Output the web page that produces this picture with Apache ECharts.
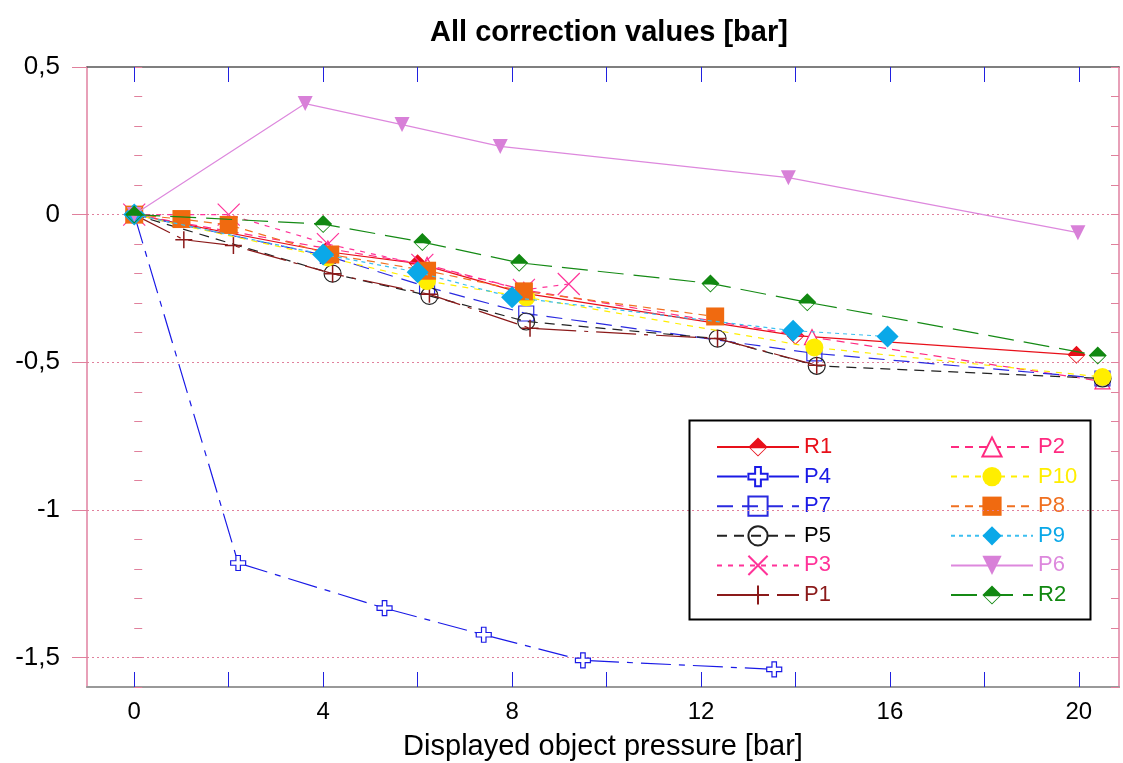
<!DOCTYPE html>
<html>
<head>
<meta charset="utf-8">
<script src="https://cdn.jsdelivr.net/npm/echarts@6/dist/echarts.min.js"></script>
<style>html,body{margin:0;padding:0;background:#fff;}#c{width:1123px;height:763px;}</style>
</head>
<body>
<div id="c"></div>
<script>
// ---- data ----
const R1_x = [0, 4.05, 6.0, 8.2, 14.0, 19.95];
const R1_y = [0, -0.125, -0.165, -0.265, -0.41, -0.475];
const P2_x = [0, 4.1, 6.2, 8.25, 14.35, 20.5];
const P2_y = [0, -0.115, -0.17, -0.255, -0.415, -0.565];
const P4_x = [0, 2.2, 5.3, 7.4, 9.5, 13.55];
const P4_y = [0, -1.18, -1.333, -1.423, -1.51, -1.54];
const P7_x = [0, 4.1, 6.2, 8.3, 14.4, 20.5];
const P7_y = [0, -0.14, -0.245, -0.335, -0.47, -0.555];
const P5_x = [0, 4.2, 6.25, 8.3, 12.35, 14.45, 20.5];
const P5_y = [0, -0.2, -0.275, -0.362, -0.42, -0.512, -0.555];
const P3_x = [0, 2.0, 4.1, 6.1, 8.25, 9.2];
const P3_y = [0, 0, -0.1, -0.17, -0.255, -0.235];
const P1_x = [0, 1.05, 2.1, 4.2, 6.25, 8.38, 12.35, 14.45];
const P1_y = [0, -0.085, -0.105, -0.2, -0.27, -0.385, -0.42, -0.51];
const P10_x = [0, 4.1, 6.2, 8.3, 14.4, 20.5];
const P10_y = [0, -0.145, -0.225, -0.28, -0.45, -0.55];
const P8_x = [0, 1.0, 2.0, 4.15, 6.2, 8.25, 12.3];
const P8_y = [0, -0.015, -0.035, -0.135, -0.19, -0.26, -0.345];
const P9_x = [0, 4.0, 6.0, 8.0, 13.95, 15.95];
const P9_y = [0, -0.135, -0.195, -0.28, -0.393, -0.413];
const P6_x = [0, 3.62, 5.67, 7.75, 13.85, 19.98];
const P6_y = [0, 0.376, 0.305, 0.231, 0.125, -0.061];
const R2_x = [0, 4.0, 6.1, 8.15, 12.2, 14.25, 20.4];
const R2_y = [0, -0.032, -0.093, -0.163, -0.233, -0.297, -0.477];

const xTicks = [0, 2, 4, 6, 8, 10, 12, 14, 16, 18, 20];
const xLabels = [0, 4, 8, 12, 16, 20];
const yMajor = [0.5, 0, -0.5, -1, -1.5];
const yGrid = [0, -0.5, -1, -1.5];

const legendLeft = ['R1', 'P4', 'P7', 'P5', 'P3', 'P1'];
const legendRight = ['P2', 'P10', 'P8', 'P9', 'P6', 'R2'];

// ---- styles ----
const HALF_DIAMOND = 'path://M10 0L20 10L10 20L0 10Z M2.4 11.2L10 18.6L17.6 11.2Z';
const HOLLOW_CROSS = 'path://M7 0H13V7H20V13H13V20H7V13H0V7H7Z';
const X_MARK = 'path://M0 0L20 20M20 0L0 20';
const PLUS_MARK = 'path://M10 0V20M0 10H20';
const T = 'rgba(0,0,0,0)';

const styles = {
  R1: {x: R1_x, y: R1_y, line: '#e8101a', dash: 'solid', sym: HALF_DIAMOND, size: 18, fill: '#e8101a', border: '#e8101a', bw: 0, text: '#e8101a'},
  P2: {x: P2_x, y: P2_y, line: '#ff2a80', dash: [8, 6], sym: 'triangle', size: 15, fill: '#fff', border: '#ff2a80', bw: 1.2, text: '#ff2a80'},
  P4: {x: P4_x, y: P4_y, line: '#1a1ae6', dash: [30, 8, 6, 8], sym: HOLLOW_CROSS, size: 15, fill: '#fff', border: '#1a1ae6', bw: 1.2, text: '#1a1ae6'},
  P7: {x: P7_x, y: P7_y, line: '#2a2ae0', dash: [16, 9], sym: 'rect', size: 15, fill: T, border: '#2a2ae0', bw: 1.2, text: '#1a1ae6'},
  P5: {x: P5_x, y: P5_y, line: '#222222', dash: [10, 7], sym: 'circle', size: 17, fill: T, border: '#222222', bw: 1.2, text: '#000000'},
  P1: {x: P1_x, y: P1_y, line: '#8b1a1a', dash: [40, 8, 4, 8], sym: PLUS_MARK, size: 17, fill: T, border: '#8b1a1a', bw: 1.5, text: '#8b1a1a'},
  P3: {x: P3_x, y: P3_y, line: '#ff3399', dash: [5, 6], sym: X_MARK, size: 22, fill: T, border: '#ff3399', bw: 1.2, text: '#ff3399'},
  P10: {x: P10_x, y: P10_y, line: '#ffee00', dash: [6, 6], sym: 'circle', size: 18, fill: '#ffee00', border: '#ffee00', bw: 0, text: '#ffee00'},
  P8: {x: P8_x, y: P8_y, line: '#f07020', dash: [8, 6], sym: 'rect', size: 18, fill: '#f06a10', border: '#f06a10', bw: 0, text: '#f07020'},
  P9: {x: P9_x, y: P9_y, line: '#3cbff0', dash: [4, 4], sym: 'diamond', size: 22, fill: '#0aa8e8', border: '#0aa8e8', bw: 0, text: '#0aa8e8'},
  P6: {x: P6_x, y: P6_y, line: '#dd88dd', dash: 'solid', sym: 'triangle', rot: 180, size: 15, fill: '#d880d8', border: '#d880d8', bw: 0, text: '#dd88dd'},
  R2: {x: R2_x, y: R2_y, line: '#158a15', dash: [26, 10], sym: HALF_DIAMOND, size: 18, fill: '#118811', border: '#118811', bw: 0, text: '#118811'}
};
const drawOrder = ['R1', 'P2', 'P4', 'P7', 'P5', 'P1', 'P3', 'P10', 'P8', 'P9', 'P6', 'R2'];

const series = drawOrder.map((name, i) => {
  const s = styles[name];
  const obj = {
    name: name,
    type: 'line',
    xAxisIndex: 0,
    yAxisIndex: 0,
    data: s.x.map((v, k) => [v, s.y[k]]),
    symbol: s.sym,
    symbolSize: s.size,
    symbolRotate: s.rot || 0,
    symbolKeepAspect: true,
    showAllSymbol: true,
    lineStyle: {color: s.line, width: 1.2, type: s.dash},
    itemStyle: {color: s.fill, borderColor: s.border, borderWidth: s.bw},
    emphasis: {disabled: true},
    animation: false,
    z: 3 + i
  };
  if (i === 0) {
    obj.markLine = {
      silent: true, symbol: 'none', animation: false,
      label: {show: false},
      lineStyle: {color: '#e0809c', type: [2, 3], width: 1},
      data: yGrid.map(v => ({yAxis: v}))
    };
  }
  return obj;
});

const legendItem = n => ({name: n, textStyle: {color: styles[n].text}});
const legendBase = {
  orient: 'vertical',
  itemWidth: 82,
  itemHeight: 24,
  itemGap: 7.6,
  selectedMode: false,
  textStyle: {fontFamily: 'Liberation Sans, Arial, sans-serif', fontSize: 22, padding: 0}
};

const fmt = v => String(v).replace('.', ',');
const pink = '#e8a0b8';
const blue = '#2020e0';

const chart = echarts.init(document.getElementById('c'), null, {renderer: 'canvas'});
chart.setOption({
  backgroundColor: '#ffffff',
  animation: false,
  title: {
    text: 'All correction values [bar]',
    left: 604, top: 13, textAlign: 'center',
    textStyle: {fontFamily: 'Liberation Sans, Arial, sans-serif', fontSize: 29, fontWeight: 'bold', color: '#000'}
  },
  grid: {left: 87, right: 4, top: 67, bottom: 76, containLabel: false, outerBoundsMode: 'none'},
  legend: [
    Object.assign({}, legendBase, {left: 711, top: 431, data: legendLeft.map(legendItem)}),
    Object.assign({}, legendBase, {left: 945, top: 431, data: legendRight.map(legendItem)})
  ],
  graphic: [{
    type: 'rect', left: 687, top: 418, z: 100,
    shape: {width: 401, height: 199},
    style: {fill: 'none', stroke: '#000', lineWidth: 2}
  }],
  xAxis: [{
    type: 'value', position: 'bottom', min: -1, max: 20.85,
    name: 'Displayed object pressure [bar]', nameLocation: 'middle', nameGap: 45,
    nameTextStyle: {fontFamily: 'Liberation Sans, Arial, sans-serif', fontSize: 29, color: '#000'},
    axisLine: {show: true, onZero: false, lineStyle: {color: '#999', width: 2}},
    axisTick: {show: true, inside: true, length: 15, customValues: xTicks, lineStyle: {color: blue, width: 1}},
    axisLabel: {show: true, customValues: xLabels, margin: 13, fontFamily: 'Liberation Sans Narrow, Arial Narrow, Liberation Sans, sans-serif', fontSize: 24, color: '#000'},
    splitLine: {show: false}
  }, {
    type: 'value', position: 'top', min: -1, max: 20.85,
    axisLine: {show: true, onZero: false, lineStyle: {color: '#555', width: 1.5}},
    axisTick: {show: true, inside: true, length: 15, customValues: xTicks, lineStyle: {color: blue, width: 1}},
    axisLabel: {show: false},
    splitLine: {show: false}
  }],
  yAxis: [{
    type: 'value', position: 'left', min: -1.6, max: 0.5,
    axisLine: {show: true, onZero: false, lineStyle: {color: pink, width: 2}},
    axisTick: {show: true, inside: false, length: 15, customValues: yMajor, lineStyle: {color: '#e0809c', width: 1}},
    axisLabel: {show: true, customValues: yMajor, margin: 27, formatter: fmt, fontFamily: 'Liberation Sans, Arial, sans-serif', fontSize: 26, color: '#000'},
    splitLine: {show: false}
  }, {
    type: 'value', position: 'left', min: -1.6, max: 0.5, interval: 0.1,
    axisLine: {show: false},
    axisTick: {show: true, inside: true, length: 8, lineStyle: {color: '#e0809c', width: 1}},
    axisLabel: {show: false},
    splitLine: {show: false}
  }, {
    type: 'value', position: 'right', min: -1.6, max: 0.5, interval: 0.1,
    axisLine: {show: true, onZero: false, lineStyle: {color: pink, width: 2}},
    axisTick: {show: true, inside: true, length: 8, lineStyle: {color: '#e0809c', width: 1}},
    axisLabel: {show: false},
    splitLine: {show: false}
  }],
  series: series
});
</script>
</body>
</html>
